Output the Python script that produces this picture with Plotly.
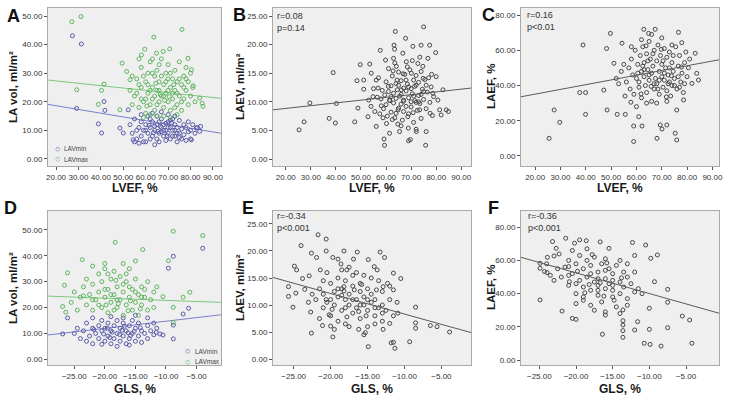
import plotly.graph_objects as go

FONT = "Liberation Sans, Arial, sans-serif"

# ---------------- data ----------------
# Panel A: LA volume vs LVEF
a_lavmax = [(27.0,48.0),(31.1,49.8),(76.2,45.3),(63.6,42.6),(29.2,24.2),(40.3,24.0),(41.4,26.2),(38.9,19.1),
            (48.5,17.2),(49.5,33.5),(51.5,30.6),(53.0,27.7),(58.1,36.4),(59.6,38.4),(64.8,37.0),(67.8,37.6),
            (70.7,38.5),(78.9,35.2),(80.4,31.2),(81.2,25.6),(84.1,21.3),(85.2,19.5),(85.6,18.4),
            (55,22),(56,28),(57,18),(58,25),(58,32),(59,20),(60,27),(60,16),(61,23),(61,30),(62,19),(62,34),
            (63,25),(63,21),(64,29),(64,17),(65,24),(65,31),(66,20),(66,27),(67,22),(67,35),(68,18),(68,26),
            (69,30),(69,23),(70,20),(70,33),(71,25),(71,17),(72,28),(72,21),(73,31),(73,24),(74,19),(74,27),
            (75,22),(75,34),(76,26),(76,17),(77,29),(77,21),(78,24),(78,32),(79,19),(79,27),(80,22),(81,25),
            (82,20),(53,24),(54,19),(54,29),(57,35),(59,14.5),(62,15.5),(65,15),(68,15),(71,14.5),(74,15.5),
            (56,23),(60,21),(63,30),(66,33),(69,27),(72,23),(75,28),(70,24),(67,29),(64,22),(61,26),(58,21),
            (76,20),(73,18),(68,22),(65,19),(78,28),(71,30),(63,35),(59,29),(80,30),(57,26),(62,24),(66,24),
            (70,28),(74,23),(77,25),(60.5,18.5),(64.5,26.5),(68.5,20.5),(72.5,26),(66.5,22.5),(70.5,21.8)]
a_lavmin = [(27.3,43.1),(31.3,40.2),(29.2,17.7),(38.9,12.3),(40.3,9.1),(41.4,20.1),(41.8,17.0),(48.5,10.8),
            (50.0,9.1),(52.2,17.2),(54.4,6.7),(82.6,10.8),(84.1,9.7),(84.5,11.4),(80.4,6.7),
            (53,12),(54,9),(55,14),(56,7),(57,11),(58,13),(58,8),(59,10),(60,6),(60,12),(61,9),(61,15),(62,11),
            (62,7),(63,13),(63,8),(64,10),(64,5),(65,12),(65,15),(66,9),(66,6),(67,11),(67,14),(68,8),(68,12),
            (69,10),(69,6.5),(70,13),(70,9),(71,11),(71,7),(72,14),(72,10),(73,8),(73,12),(74,6),(74,11),(75,9),
            (75,13.5),(76,10.5),(76,7),(77,12),(77,8.5),(78,11),(78,6.5),(79,9.5),(79,13),(80,10),(80,7),(81,12),
            (82,9),(83,11),(57,5.5),(59,6),(62,14),(65,7),(67,9.5),(69,12.5),(71,13.5),(73,10),(75,7.5),
            (64,11.5),(66,13),(68,10),(70,11),(72,8),(74,9),(60,10),(56,10),(55,6),(58,15.5),(63,16),(67,16.5),
            (70,15.5),(73,15),(61.5,11.8),(65.5,9.6),(69.5,8.2),(71.5,12.6),(66.5,11.4),(63.5,9.2)]
a_fit_x = [16.4, 93.6]
a_fit_max = [27.6, 21.2]
a_fit_min = [19.1, 9.0]

# Panel B: LAEV vs LVEF
b_pts = [(25.3,5.1),(27.3,6.5),(29.6,9.8),(37.3,7.1),(38.9,15.1),(39.8,6.3),(40.2,9.7),(47.5,6.5),(48.8,8.9),
         (48.4,13.7),(49.7,16.5),(51.1,13.8),(51.1,12.2),(53.5,16.6),(54.1,15.0),(53.1,10.3),(52.8,7.4),
         (54.8,10.9),(55.5,8.3),(56.1,5.7),(57.7,19.0),(56.1,13.8),(56.8,12.4),(58.1,9.3),(58.8,7.2),(59.2,3.5),
         (59.4,2.4),(59.8,17.3),(60.9,12.7),(61.4,10.3),(61.4,4.5),(62.5,6.9),(63.0,17.6),(63.2,19.9),
         (63.4,19.2),(63.7,22.3),(64.1,16.2),(64.4,13.8),(64.8,8.6),(65.4,4.8),(66.1,12.1),(66.7,18.5),
         (67.0,10.3),(67.8,21.1),(68.1,17.0),(68.7,7.4),(69.0,3.2),(69.7,3.4),(70.1,15.0),(70.7,19.7),
         (71.4,12.7),(72.1,4.8),(72.7,16.7),(73.4,8.6),(74.0,19.9),(74.7,16.2),(75.0,23.1),(75.8,2.4),
         (76.0,4.8),(76.7,17.6),(77.4,19.9),(77.6,8.0),(78.7,11.5),(79.8,18.6),(80.0,14.4),(80.7,10.3),
         (81.4,8.6),(82.0,7.7),(82.7,12.1),(84.0,8.6),(84.9,8.3),
         (58,10.5),(58.5,12),(59,8.8),(59.5,11.2),(60,9.5),(60,13.5),(60.5,7.5),(61,11.8),(61.5,10.2),(62,12.8),
         (62,8.2),(62.5,14.5),(63,9.8),(63,11.5),(63.5,7.2),(64,13.2),(64,10.6),(64.5,12.1),(65,8.9),(65,15.2),
         (65.5,11),(66,9.6),(66,13.7),(66.5,6.8),(67,12.4),(67,10.1),(67.5,14.8),(68,9.2),(68,11.9),(68.5,13.1),
         (69,7.9),(69,10.7),(69.5,15.6),(70,12.3),(70,9.1),(70.5,11.4),(71,13.8),(71,6.4),(71.5,10.2),(72,12.9),
         (72,14.6),(72.5,8.5),(73,11.1),(73,13.4),(73.5,9.7),(74,15.3),(74,7.1),(74.5,12.2),(75,10.4),(75.5,13.9),
         (76,8.8),(76.5,11.7),(77,14.2),(77.5,9.9),(78,12.6),(78.5,7.6),(79,10.9),(61,15.8),(63.5,16.8),
         (68.5,16.1),(70.5,17.2),(73.5,17.8),(66,5.8),(72,5.2),(57,14.2),(57.5,7.9),(56.5,10.8),(55,12.3),
         (54,9.2),(65,12.9),(67,8.3),(69,12.6),(71,11.0),(73,10.0),(75,11.8),(62,10.9),(64,8.0),(66,11.3),
         (68,13.8),(70,10.0),(72,9.9),(74,11.3),(76,12.9),(60.2,6.2),(62.8,15.4),(66.8,14.9),(70.8,8.1),
         (74.8,14.1),(78.2,14.8),(64.7,6.1),(68.9,5.4)]
b_fit_x = [14.9, 93.9]
b_fit_y = [8.6, 12.4]

# Panel C: LAEF vs LVEF
c_pts = [(25.5,10.0),(27.5,26.1),(29.7,19.1),(38.9,63.0),(37.6,36.0),(39.9,36.0),(39.9,23.6),(47.1,37.4),
         (48.2,61.0),(48.4,26.1),(49.7,69.6),(51.1,52.6),(52.4,23.6),(54.3,64.0),(55.6,23.6),(58.9,17.0),
         (58.9,8.2),(60.9,22.3),(62.2,17.0),(62.9,71.9),(64.8,69.6),(67.4,71.9),(68.1,10.0),(69.4,17.6),
         (70.1,15.3),(72.0,17.6),(75.3,12.9),(75.9,9.1),(76.6,70.2),(75.9,26.1),(77.9,64.3),(78.6,31.8),
         (81.9,41.2),(83.2,58.3),(83.8,46.9),(84.5,43.1),
         (56,42),(57,50),(57.5,38),(58,55),(58.5,46),(59,35),(59.5,60),(60,44),(60.5,52),(61,39),(61.5,57),
         (62,48),(62,33),(62.5,62),(63,45),(63,53),(63.5,40),(64,58),(64,36),(64.5,49),(65,43),(65,65),
         (65.5,55),(66,47),(66,31),(66.5,51),(67,38),(67,60),(67.5,44),(68,54),(68,41),(68.5,63),(69,48),
         (69,35),(69.5,57),(70,45),(70,52),(70.5,39),(71,61),(71,43),(71.5,50),(72,37),(72,56),(72.5,46),
         (73,42),(73,59),(73.5,34),(74,53),(74,40),(74.5,48),(75,44),(75.5,62),(76,38),(76.5,51),(77,57),
         (77.5,42),(78,47),(78.5,36),(79,53),(79.5,59),(80,45),(80.5,50),(81,55),(54,48),(53,41),(52,44),
         (55,52),(55.5,34),(60,28),(64,30),(68,30),(72,31),(66,69),(70,67),(74,63),(62,66),(58,62),(61,42),
         (63,49),(65,46),(67,41),(69,43),(71,47),(73,50),(75,40),(77,39),(79,41),(62.5,51),(66.5,58),
         (70.5,54),(74.5,57),(60.5,47),(64.5,54),(68.5,38),(72.5,41),(76.5,45),(57.8,30.5),(61.8,35.2),
         (65.8,39.5),(69.8,60.5),(73.8,45.5),(77.8,50.5),(71.8,33.5),(63.8,62.5)]
c_fit_x = [14.4, 92.6]
c_fit_y = [33.6, 54.6]

# Panel D: LA volume vs GLS
d_lavmax = [(-8.8,49.5),(-4.0,47.8),(-18.3,45.2),(-13.8,42.4),(-23.7,38.5),(-9.6,38.1),(-26.1,33.4),
            (-6.1,25.9),(-7.2,24.0),(-8.8,20.1),(-10.5,24.2),(-26.6,28.6),(-26.9,20.4),(-26.4,18.2),(-8.8,14.2),
            (-24,24),(-23.5,28),(-23,21),(-23,31),(-22.5,25),(-22,19),(-22,29),(-21.5,23),(-21,33),(-21,26),
            (-20.5,20),(-20.5,30),(-20,24),(-20,35),(-19.5,27),(-19.5,18),(-19,22),(-19,31),(-18.5,25),(-18.5,34),
            (-18,20),(-18,28),(-17.5,23),(-17.5,32),(-17,26),(-17,17),(-16.5,21),(-16.5,30),(-16,24),(-16,35),
            (-15.5,19),(-15.5,27),(-15,22),(-15,31),(-14.5,25),(-14.5,17),(-14,28),(-14,21),(-13.5,24),(-13,30),
            (-13,19),(-12.5,23),(-12,26),(-12,20),(-11.5,28),(-25,26),(-25.5,22),(-24.5,19),(-22,36),(-20,37),
            (-17,37),(-15,38),(-18,23),(-16,28),(-20,27),(-22,23),(-14,24),(-19,25),(-17,29),(-15,26),(-21,21),
            (-13.5,27),(-18.5,19),(-16.5,33),(-19.5,33),(-23.5,24.5),(-17.8,21.5),(-15.8,22.6),(-19.8,21),
            (-14.2,19.5),(-16.2,18.8),(-18.2,30.5)]
d_lavmin = [(-4.0,42.9),(-8.8,39.8),(-9.6,35.2),(-6.3,19.7),(-7.2,17.5),(-8.8,7.9),(-26.9,9.8),(-26.1,16.0),
            (-10.5,9.4),(-11.0,9.8),(-11.6,10.4),(-8.8,13.2),
            (-25,10),(-24.5,12),(-24,8),(-23.5,11),(-23,7),(-23,14),(-22.5,9),(-22,12),(-22,6),(-21.5,10),
            (-21,13),(-21,8),(-20.5,11),(-20.5,15),(-20,7),(-20,12),(-19.5,9),(-19.5,14),(-19,11),(-19,6),
            (-18.5,13),(-18.5,8),(-18,10),(-18,15),(-17.5,7),(-17.5,12),(-17,9),(-17,14),(-16.5,11),(-16.5,6),
            (-16,13),(-16,8),(-15.5,10),(-15.5,15),(-15,7),(-15,12),(-14.5,9),(-14.5,14),(-14,11),(-14,6.5),
            (-13.5,10),(-13,13),(-13,8),(-12.5,11),(-12,9.5),(-11.5,12),(-18,5),(-16,5.5),(-20.5,5.8),(-22,16),
            (-19,16.5),(-17,16),(-15,17),(-13,16),(-18.8,10.5),(-17.2,11.2),(-15.8,9.2),(-20.2,9.8),(-21.8,11.5),
            (-16.8,12.8),(-14.2,12.2),(-19.6,12),(-12,14),(-17.6,9.6),(-15.2,10.8),(-19.2,8.4),(-16.2,10.2)]
d_fit_x = [-29.3, -1.0]
d_fit_max = [24.4, 22.0]
d_fit_min = [9.4, 17.2]

# Panel E: LAEV vs GLS
e_pts = [(-25.7,11.6),(-25.7,13.4),(-25.1,9.6),(-24.9,17.2),(-24.6,16.5),(-24.0,21.0),(-24.7,12.2),
         (-23.8,14.9),(-23.5,12.9),(-22.9,15.4),(-22.6,19.6),(-22.6,4.8),(-22.7,8.7),(-21.9,18.8),(-21.7,23.0),
         (-21.4,16.5),(-21.1,6.2),(-20.6,20.0),(-20.6,22.2),(-20.6,11.0),(-20.2,8.2),(-20.0,6.1),(-19.7,4.1),
         (-19.7,18.8),(-19.0,18.5),(-18.6,17.6),(-18.2,20.0),(-18.2,13.4),(-17.8,16.5),(-16.9,18.5),
         (-16.4,19.8),(-16.2,5.5),(-15.3,4.9),(-14.9,18.4),(-14.9,2.3),(-14.1,17.1),(-13.7,16.5),(-13.3,19.8),
         (-12.7,18.8),(-12.9,5.5),(-12.3,14.0),(-12.9,13.4),(-12.0,6.6),(-11.8,3.0),(-11.5,3.1),(-11.3,2.0),
         (-11.5,15.9),(-11.5,12.8),(-10.9,8.5),(-10.5,14.9),(-9.3,3.2),(-8.5,9.6),(-8.5,6.7),(-8.5,5.7),
         (-6.5,6.2),(-5.6,6.0),(-3.9,5.0),
         (-22,11),(-21.5,13),(-21,9.5),(-21,12),(-20.5,10.5),(-20,14),(-20,8),(-19.5,12.5),(-19.5,10),
         (-19,11.5),(-19,15),(-19,7),(-18.5,9),(-18.5,13),(-18,11),(-18,14.5),(-18,6.5),(-17.5,10),(-17.5,12),
         (-17,8.5),(-17,13.5),(-17,15.5),(-16.5,11),(-16.5,9.5),(-16,12.5),(-16,7.5),(-16,14),(-15.5,10),
         (-15.5,11.5),(-15,9),(-15,13),(-15,6),(-14.5,10.5),(-14.5,12),(-14,8),(-14,11),(-13.5,9.5),
         (-13.5,14.5),(-13,10),(-13,7),(-13,12.5),(-12.5,9),(-12,11),(-12,13.5),(-11.5,8),(-11,10.5),
         (-21.5,7.5),(-22.5,12),(-23,10.5),(-20.5,16),(-18.5,16.5),(-17.5,17),(-16.5,16),(-15.5,15.5),
         (-14.5,15),(-19.5,5.5),(-17.5,6),(-15.5,4.5),(-14,6.5),(-20,11),(-18,9.5),(-16,10),(-14,9.5),
         (-19,13),(-17,11),(-15,11),(-13,8.5),(-21,14.5),(-18.5,11.8),(-16.8,12.8),(-15.2,8),
         (-19.8,9.2),(-17.8,7.8),(-15.8,13.8),(-13.8,12.8),(-18.2,12.6),(-16.2,8.8)]
e_fit_x = [-27.8, -1.0]
e_fit_y = [15.1, 4.9]

# Panel F: LAEF vs GLS
f_pts = [(-24.9,36.2),(-24.9,58.3),(-24.9,55.3),(-24.3,53.3),(-23.95,52.7),(-23.9,61.9),(-23.2,71.4),
         (-23.0,62.7),(-22.7,67.3),(-22.3,63.9),(-21.9,29.5),(-21.4,73.4),(-21.0,56.3),(-20.9,47.2),
         (-20.5,25.1),(-20.0,24.5),(-19.5,72.4),(-20.2,70.4),(-18.6,71.9),(-16.7,71.2),(-16.4,15.5),
         (-16.0,27.1),(-15.5,67.3),(-13.6,30.2),(-13.6,23.7),(-13.6,17.7),(-13.6,13.7),(-13.6,21.1),
         (-12.3,70.8),(-12.0,18.1),(-11.6,23.1),(-10.7,10.1),(-10.5,69.3),(-10.0,31.2),(-10.0,18.5),
         (-9.9,9.4),(-9.8,61.3),(-9.3,47.2),(-8.9,63.3),(-8.4,8.4),(-7.5,42.6),(-7.5,34.8),(-7.5,19.5),
         (-5.5,26.5),(-4.5,24.1),(-4.2,10.1),
         (-22,50),(-21.5,56),(-21,45),(-21,60),(-20.5,52),(-20,40),(-20,58),(-19.5,48),(-19.5,63),(-19,44),
         (-19,55),(-19,36),(-18.5,50),(-18.5,60),(-18,42),(-18,57),(-18,33),(-17.5,47),(-17.5,62),(-17,39),
         (-17,53),(-17,45),(-16.5,58),(-16.5,35),(-16,49),(-16,43),(-16,61),(-15.5,46),(-15.5,55),(-15,38),
         (-15,52),(-15,42),(-14.5,57),(-14.5,32),(-14,47),(-14,40),(-13.5,53),(-13.5,44),(-13,37),(-13,50),
         (-13,58),(-12.5,46),(-12,41),(-12,53),(-11.5,43),(-11,40),(-22.5,55),(-23,48),(-23.5,51),(-24,58),
         (-20.5,66),(-18.5,67),(-17.5,30),(-16,29),(-14,28),(-20,34),(-19,38),(-17,42),(-15,48),(-21,51),
         (-18,52),(-16,54),(-14,60),(-12,63),(-20,46),(-17,49),(-15,45),(-13,33),(-18.8,40.5),(-16.7,46.5),
         (-14.8,36),(-19.8,53.5),(-17.8,63.5),(-15.8,58.5),(-13.8,49.5),(-18.2,45.5),(-16.2,38.5)]
f_fit_x = [-27.5, -0.5]
f_fit_y = [61.9, 28.2]

# axis ranges and ticks
lvef_ticks = [20, 30, 40, 50, 60, 70, 80, 90]
gls_ticks = [-25, -20, -15, -10, -5]
vol_ticks = [0, 10, 20, 30, 40, 50]
laev_ticks = [0, 5, 10, 15, 20, 25]
laef_ticks = [0, 20, 40, 60, 80]

stats_text = {"B": ("r=0.08", "p=0.14"), "C": ("r=0.16", "p<0.01"),
              "E": ("r=-0.34", "p<0.001"), "F": ("r=-0.36", "p<0.001")}

# ---------------- styling ----------------
BLUE = "#5a5aa8"
GREEN = "#5fb45f"
BLUE_LINE = "#7a7fcc"
GREEN_LINE = "#7cc87c"
DARK = "#474747"
DARK_LINE = "#5a5a5a"

fig = go.Figure()


def scatter(pts, color, ax, name):
    xs, ys = zip(*pts)
    fig.add_trace(go.Scatter(x=list(xs), y=list(ys), mode="markers", name=name, showlegend=False,
                             marker=dict(symbol="circle-open", size=4, color=color, line=dict(width=1, color=color)),
                             xaxis="x" + ax, yaxis="y" + ax))


def fit(xs, ys, color, ax):
    fig.add_trace(go.Scatter(x=xs, y=ys, mode="lines", showlegend=False, hoverinfo="skip",
                             line=dict(color=color, width=1), xaxis="x" + ax, yaxis="y" + ax))


fit(a_fit_x, a_fit_min, BLUE_LINE, "")
fit(a_fit_x, a_fit_max, GREEN_LINE, "")
scatter(a_lavmin, BLUE, "", "LAVmin")
scatter(a_lavmax, GREEN, "", "LAVmax")
scatter(b_pts, DARK, "2", "LAEV")
fit(b_fit_x, b_fit_y, DARK_LINE, "2")
scatter(c_pts, DARK, "3", "LAEF")
fit(c_fit_x, c_fit_y, DARK_LINE, "3")
fit(d_fit_x, d_fit_min, BLUE_LINE, "4")
fit(d_fit_x, d_fit_max, GREEN_LINE, "4")
scatter(d_lavmin, BLUE, "4", "LAVmin")
scatter(d_lavmax, GREEN, "4", "LAVmax")
scatter(e_pts, DARK, "5", "LAEV")
fit(e_fit_x, e_fit_y, DARK_LINE, "5")
scatter(f_pts, DARK, "6", "LAEF")
fit(f_fit_x, f_fit_y, DARK_LINE, "6")

W, H = 729, 402
cols = [(48, 221), (273, 471), (521, 719)]
rows = [(8, 166), (211, 365)]


def dom_x(c):
    return [cols[c][0] / W, cols[c][1] / W]


def dom_y(r):
    return [1 - rows[r][1] / H, 1 - rows[r][0] / H]


def axis(domain, rng, ticks, anchor):
    return dict(domain=domain, range=rng, tickvals=ticks, tickformat=".2f", showline=True, mirror=True,
                linecolor="#a9a9a9", linewidth=1, ticks="outside", ticklen=3, tickcolor="#555555",
                tickangle=0, tickfont=dict(size=8, color="#333333", family=FONT), showgrid=False,
                zeroline=False, anchor=anchor, fixedrange=True, automargin=False)


specs = [
    ("", 0, 0, [16.4, 93.6], lvef_ticks, [-2.45, 52.8], vol_ticks),
    ("2", 0, 1, [14.9, 93.9], lvef_ticks, [-1.22, 26.4], laev_ticks),
    ("3", 0, 2, [14.4, 92.6], lvef_ticks, [-5.7, 84.0], laef_ticks),
    ("4", 1, 0, [-29.3, -1.0], gls_ticks, [-2.2, 57.3], vol_ticks),
    ("5", 1, 1, [-27.8, -1.0], gls_ticks, [-1.1, 27.4], laev_ticks),
    ("6", 1, 2, [-27.5, -0.5], gls_ticks, [-3.0, 89.8], laef_ticks),
]
layout_axes = {}
for ax, r, c, xr, xt, yr, yt in specs:
    layout_axes["xaxis" + ax] = axis(dom_x(c), xr, xt, "y" + ax)
    layout_axes["yaxis" + ax] = axis(dom_y(r), yr, yt, "x" + ax)

ann = []


def text(px, py, s, size, bold=False, angle=0, xanchor="center", color="#1a1a1a"):
    ann.append(dict(x=px / W, y=1 - py / H, xref="paper", yref="paper", text=("<b>%s</b>" % s) if bold else s,
                    showarrow=False, xanchor=xanchor, yanchor="middle", textangle=angle,
                    font=dict(family=FONT, size=size, color=color)))


# panel letters
for letter, px, py in [("A", 13, 16), ("B", 239, 15), ("C", 488, 15), ("D", 10, 208), ("E", 248, 208), ("F", 493, 208)]:
    text(px, py, letter, 18, bold=True, color="#111111")

# axis titles
ytitles = ["LA vol, ml/m²", "LAEV, ml/m²", "LAEF, %"]
ytx = [13, 240, 491]
for r in range(2):
    cy = (rows[r][0] + rows[r][1]) / 2
    for c in range(3):
        text(ytx[c], cy, ytitles[c], 11.5, bold=True, angle=-90)
    xt = "LVEF, %" if r == 0 else "GLS, %"
    for c in range(3):
        text((cols[c][0] + cols[c][1]) / 2, 188 if r == 0 else 389, xt, 12, bold=True)

# r / p statistics
for key, px, py in [("B", 275, 16), ("C", 525, 15), ("E", 275, 216), ("F", 526, 216)]:
    rr, pp = stats_text[key]
    text(px, py, rr, 9, xanchor="left", color="#333333")
    text(px, py + 12, pp, 9, xanchor="left", color="#333333")

# in-plot legends (panels A and D)
for (lx, ly) in [(57, 149), (188, 351)]:
    for i, (lab, colr) in enumerate([("LAVmin", BLUE), ("LAVmax", GREEN)]):
        text(lx, ly + i * 10.5, "○", 9, color=colr)
        text(lx + 5, ly + i * 10.5, lab, 6.5, xanchor="left", color="#444444")

fig.update_layout(width=W, height=H, margin=dict(l=0, r=0, t=0, b=0), paper_bgcolor="white",
                  plot_bgcolor="#efefef", annotations=ann, showlegend=False, **layout_axes)

fig.write_html("out.html", config={"displayModeBar": False},
               post_script="document.body.style.margin='0';document.body.style.overflow='hidden';")
